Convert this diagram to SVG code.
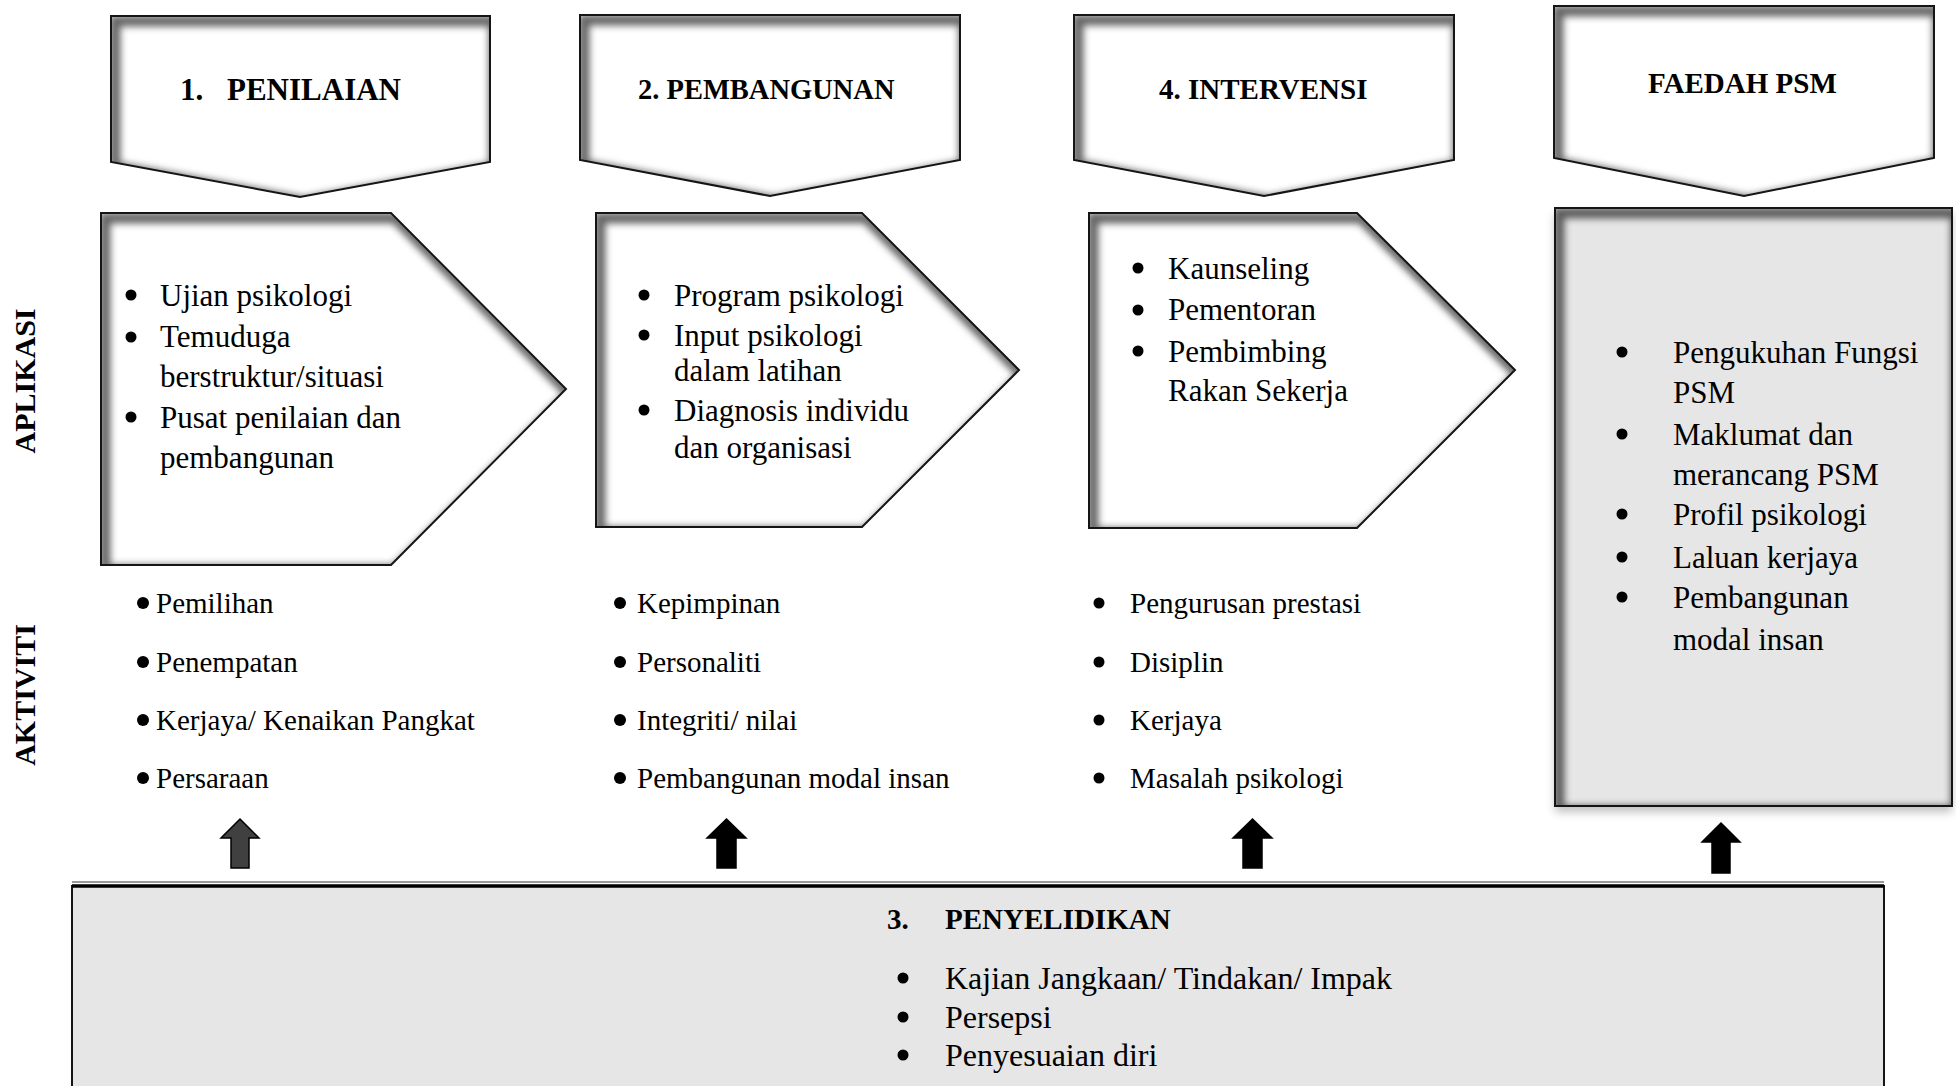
<svg xmlns="http://www.w3.org/2000/svg" width="1956" height="1086" viewBox="0 0 1956 1086">
<defs>
<style>
.fillw{fill:#ffffff;stroke:none}
.fillg{fill:#e6e6e6;stroke:none}
.edge{fill:none;stroke:#151515;stroke-width:2;stroke-linejoin:miter}
.sh{fill:none;stroke:#000;stroke-opacity:0.6;stroke-width:11}
.t{font-family:"Liberation Serif","Times New Roman",serif;fill:#000}
.b{font-weight:bold}
.p{font-size:31px}
.a{font-size:29px}
.dot{fill:#000}
.arr{fill:#000;stroke:#000;stroke-width:1.5;stroke-linejoin:miter}
</style>
<filter id="blur" x="-20%" y="-20%" width="140%" height="140%"><feGaussianBlur stdDeviation="3.5"/></filter>
<filter id="drop" x="-10%" y="-10%" width="120%" height="120%">
<feGaussianBlur in="SourceAlpha" stdDeviation="5"/>
<feOffset dx="0" dy="6" result="o"/>
<feFlood flood-color="#000" flood-opacity="0.25"/>
<feComposite in2="o" operator="in"/>
<feMerge><feMergeNode/><feMergeNode in="SourceGraphic"/></feMerge>
</filter>
<polygon id="s-h1" points="111,16 490,16 490,162 300,197 111,162"/>
<polygon id="s-h2" points="580,15 960,15 960,160 770,196 580,160"/>
<polygon id="s-h4" points="1074,15 1454,15 1454,160 1264,196 1074,160"/>
<polygon id="s-hf" points="1554,6 1934,6 1934,158 1744,196 1554,158"/>
<polygon id="s-p1" points="101,213 391,213 566,389 391,565 101,565"/>
<polygon id="s-p2" points="596,213 862,213 1019,370 862,527 596,527"/>
<polygon id="s-p4" points="1089,213 1357,213 1515,370 1357,528 1089,528"/>
<rect id="s-fb" x="1555" y="208" width="397" height="598"/>
<clipPath id="c-h1"><use href="#s-h1"/></clipPath>
<clipPath id="c-h2"><use href="#s-h2"/></clipPath>
<clipPath id="c-h4"><use href="#s-h4"/></clipPath>
<clipPath id="c-hf"><use href="#s-hf"/></clipPath>
<clipPath id="c-p1"><use href="#s-p1"/></clipPath>
<clipPath id="c-p2"><use href="#s-p2"/></clipPath>
<clipPath id="c-p4"><use href="#s-p4"/></clipPath>
<clipPath id="c-fb"><use href="#s-fb"/></clipPath>
</defs>
<rect width="1956" height="1086" fill="#ffffff"/>

<g id="label-aplikasi"><text class="t b" font-size="30" x="35" y="381" text-anchor="middle" transform="rotate(-90 35 381)">APLIKASI</text></g>
<g id="label-aktiviti"><text class="t b" font-size="30" x="35" y="695" text-anchor="middle" transform="rotate(-90 35 695)">AKTIVITI</text></g>

<g id="header-penilaian">
<use href="#s-h1" class="fillw"/>
<g clip-path="url(#c-h1)"><use href="#s-h1" class="sh" transform="translate(4,5)" filter="url(#blur)"/></g>
<use href="#s-h1" class="edge"/>
<text class="t b" font-size="31" x="180" y="100">1.</text>
<text class="t b" font-size="31" x="227" y="100">PENILAIAN</text>
</g>
<g id="header-pembangunan">
<use href="#s-h2" class="fillw"/>
<g clip-path="url(#c-h2)"><use href="#s-h2" class="sh" transform="translate(4,5)" filter="url(#blur)"/></g>
<use href="#s-h2" class="edge"/>
<text class="t b" font-size="28.5" x="638" y="99">2. PEMBANGUNAN</text>
</g>
<g id="header-intervensi">
<use href="#s-h4" class="fillw"/>
<g clip-path="url(#c-h4)"><use href="#s-h4" class="sh" transform="translate(4,5)" filter="url(#blur)"/></g>
<use href="#s-h4" class="edge"/>
<text class="t b" font-size="29" x="1159" y="99">4. INTERVENSI</text>
</g>
<g id="header-faedah">
<use href="#s-hf" class="fillw"/>
<g clip-path="url(#c-hf)"><use href="#s-hf" class="sh" transform="translate(4,5)" filter="url(#blur)"/></g>
<use href="#s-hf" class="edge"/>
<text class="t b" font-size="29" x="1648" y="93">FAEDAH PSM</text>
</g>

<g id="aplikasi-penilaian">
<use href="#s-p1" class="fillw"/>
<g clip-path="url(#c-p1)"><use href="#s-p1" class="sh" transform="translate(4,5)" filter="url(#blur)"/></g>
<use href="#s-p1" class="edge"/>
<circle class="dot" cx="131" cy="295" r="5.5"/>
<circle class="dot" cx="131" cy="337" r="5.5"/>
<circle class="dot" cx="131" cy="417" r="5.5"/>
<text class="t p" x="160" y="306">Ujian psikologi</text>
<text class="t p" x="160" y="347">Temuduga</text>
<text class="t p" x="160" y="387">berstruktur/situasi</text>
<text class="t p" x="160" y="428">Pusat penilaian dan</text>
<text class="t p" x="160" y="468">pembangunan</text>
</g>
<g id="aplikasi-pembangunan">
<use href="#s-p2" class="fillw"/>
<g clip-path="url(#c-p2)"><use href="#s-p2" class="sh" transform="translate(4,5)" filter="url(#blur)"/></g>
<use href="#s-p2" class="edge"/>
<circle class="dot" cx="644" cy="295" r="5.5"/>
<circle class="dot" cx="644" cy="335" r="5.5"/>
<circle class="dot" cx="644" cy="410" r="5.5"/>
<text class="t p" x="674" y="306">Program psikologi</text>
<text class="t p" x="674" y="346">Input psikologi</text>
<text class="t p" x="674" y="381">dalam latihan</text>
<text class="t p" x="674" y="421">Diagnosis individu</text>
<text class="t p" x="674" y="458">dan organisasi</text>
</g>
<g id="aplikasi-intervensi">
<use href="#s-p4" class="fillw"/>
<g clip-path="url(#c-p4)"><use href="#s-p4" class="sh" transform="translate(4,5)" filter="url(#blur)"/></g>
<use href="#s-p4" class="edge"/>
<circle class="dot" cx="1138" cy="268" r="5.5"/>
<circle class="dot" cx="1138" cy="310" r="5.5"/>
<circle class="dot" cx="1138" cy="351" r="5.5"/>
<text class="t p" x="1168" y="279">Kaunseling</text>
<text class="t p" x="1168" y="320">Pementoran</text>
<text class="t p" x="1168" y="362">Pembimbing</text>
<text class="t p" x="1168" y="401">Rakan Sekerja</text>
</g>
<g id="faedah-psm">
<use href="#s-fb" class="fillg" filter="url(#drop)"/>
<g clip-path="url(#c-fb)"><use href="#s-fb" class="sh" transform="translate(4,5)" filter="url(#blur)"/></g>
<use href="#s-fb" class="edge"/>
<circle class="dot" cx="1622" cy="352" r="5.5"/>
<circle class="dot" cx="1622" cy="434" r="5.5"/>
<circle class="dot" cx="1622" cy="514" r="5.5"/>
<circle class="dot" cx="1622" cy="557" r="5.5"/>
<circle class="dot" cx="1622" cy="597" r="5.5"/>
<text class="t p" x="1673" y="363">Pengukuhan Fungsi</text>
<text class="t p" x="1673" y="403">PSM</text>
<text class="t p" x="1673" y="445">Maklumat dan</text>
<text class="t p" x="1673" y="485">merancang PSM</text>
<text class="t p" x="1673" y="525">Profil psikologi</text>
<text class="t p" x="1673" y="568">Laluan kerjaya</text>
<text class="t p" x="1673" y="608">Pembangunan</text>
<text class="t p" x="1673" y="650">modal insan</text>
</g>

<g id="aktiviti-penilaian">
<circle class="dot" cx="143" cy="603" r="6"/>
<circle class="dot" cx="143" cy="662" r="6"/>
<circle class="dot" cx="143" cy="720" r="6"/>
<circle class="dot" cx="143" cy="778" r="6"/>
<text class="t a" x="156" y="613">Pemilihan</text>
<text class="t a" x="156" y="672">Penempatan</text>
<text class="t a" x="156" y="730">Kerjaya/ Kenaikan Pangkat</text>
<text class="t a" x="156" y="788">Persaraan</text>
</g>
<g id="aktiviti-pembangunan">
<circle class="dot" cx="620" cy="603" r="6"/>
<circle class="dot" cx="620" cy="662" r="6"/>
<circle class="dot" cx="620" cy="720" r="6"/>
<circle class="dot" cx="620" cy="778" r="6"/>
<text class="t a" x="637" y="613">Kepimpinan</text>
<text class="t a" x="637" y="672">Personaliti</text>
<text class="t a" x="637" y="730">Integriti/ nilai</text>
<text class="t a" x="637" y="788">Pembangunan modal insan</text>
</g>
<g id="aktiviti-intervensi">
<circle class="dot" cx="1099" cy="603" r="5.5"/>
<circle class="dot" cx="1099" cy="662" r="5.5"/>
<circle class="dot" cx="1099" cy="720" r="5.5"/>
<circle class="dot" cx="1099" cy="778" r="5.5"/>
<text class="t a" x="1130" y="613">Pengurusan prestasi</text>
<text class="t a" x="1130" y="672">Disiplin</text>
<text class="t a" x="1130" y="730">Kerjaya</text>
<text class="t a" x="1130" y="788">Masalah psikologi</text>
</g>

<g id="penyelidikan">
<line x1="72" y1="882" x2="1884" y2="882" stroke="#9a9a9a" stroke-width="2"/>
<rect x="72" y="886" width="1812" height="220" fill="#e6e6e6" stroke="#151515" stroke-width="2"/>
<line x1="72" y1="886" x2="1884" y2="886" stroke="#000" stroke-width="3.5"/>
<text class="t b" font-size="29" x="887" y="929">3.</text>
<text class="t b" font-size="29" x="945" y="929">PENYELIDIKAN</text>
<circle class="dot" cx="903" cy="978" r="5.5"/>
<circle class="dot" cx="903" cy="1017" r="5.5"/>
<circle class="dot" cx="903" cy="1055" r="5.5"/>
<text class="t" font-size="32" x="945" y="989">Kajian Jangkaan/ Tindakan/ Impak</text>
<text class="t" font-size="32" x="945" y="1028">Persepsi</text>
<text class="t" font-size="32" x="945" y="1066">Penyesuaian diri</text>
</g>

<g id="connectors">
<path class="arr" style="fill:#404040" d="M240,819 L259,838 L249,838 L249,868 L231,868 L231,838 L221,838 Z"/>
<path class="arr" d="M726.5,819 L746,838 L736,838 L736,868 L717,868 L717,838 L707,838 Z"/>
<path class="arr" d="M1252.5,819 L1272,838 L1262,838 L1262,868 L1243,868 L1243,838 L1233,838 Z"/>
<path class="arr" d="M1721,823 L1740,842 L1730,842 L1730,873 L1712,873 L1712,842 L1702,842 Z"/>
</g>
</svg>
